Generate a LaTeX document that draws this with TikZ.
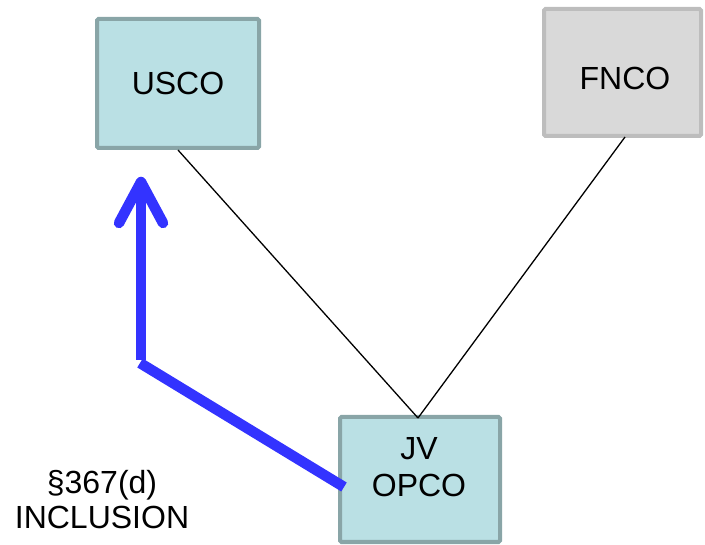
\documentclass[tikz,border=0pt]{standalone}
\usepackage{fontspec}
\setmainfont{Liberation Sans}
\definecolor{tealfill}{HTML}{BAE0E4}
\definecolor{tealline}{HTML}{89A5A7}
\definecolor{grayfill}{HTML}{D9D9D9}
\definecolor{grayline}{HTML}{BDBDBD}
\definecolor{arrowblue}{HTML}{3333FF}
\begin{document}
\begin{tikzpicture}[x=1pt,y=-1pt,
  entity/.style={draw, line width=4pt, rounded corners=1.5pt, inner sep=0pt,
    font=\fontsize{32}{37}\selectfont, align=center},
  usbox/.style={entity, draw=tealline, fill=tealfill},
  fnbox/.style={entity, draw=grayline, fill=grayfill},
  link/.style={draw=black, line width=1.3pt},
  incl/.style={draw=arrowblue, line width=10.5pt},
  lbl/.style={font=\fontsize{32}{35}\selectfont, align=center, inner sep=0pt}]
\useasboundingbox (0,0) rectangle (705,545);
\node[usbox, minimum width=162pt, minimum height=129pt] (usco) at (178,83.5) {USCO};
\node[fnbox, minimum width=157pt, minimum height=127pt] (fnco) at (622.5,72.5) {};
\node[lbl] (fntext) at (625,78) {FNCO};
\node[usbox, minimum width=160pt, minimum height=125pt] (jv) at (420,479.5) {};
\node[lbl, font=\fontsize{32}{37}\selectfont] (jvtext) at (419,467) {JV\\OPCO};
\coordinate (jvtop) at (418,418);
\coordinate (ustail) at (178,150);
\coordinate (fntail) at (625,137);
\draw[link] (ustail) -- (jvtop);
\draw[link] (fntail) -- (jvtop);
\coordinate (a1) at (344,487);
\coordinate (a2) at (140,363);
\coordinate (a3) at (141,360);
\coordinate (tip) at (141,182);
\coordinate (bl) at (119,223);
\coordinate (br) at (163,223);
\draw[incl, line cap=butt] (a1) -- (a2);
\draw[incl, line cap=butt] (a3) -- (141,188);
\draw[incl, line cap=round, line join=round] (bl) -- (tip) -- (br);
\node[lbl] (label) at (102,500) {§367(d)\\INCLUSION};
\end{tikzpicture}
\end{document}
